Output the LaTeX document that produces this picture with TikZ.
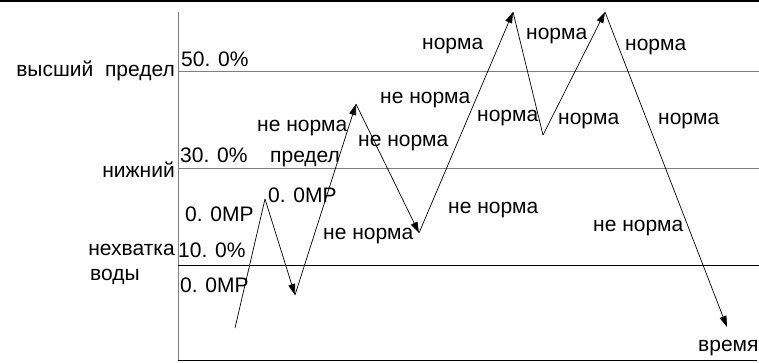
\documentclass[tikz,border=0pt]{standalone}
\usepackage{fontspec}
\setmainfont{Liberation Sans}
\usetikzlibrary{arrows.meta}
\definecolor{caxis}{HTML}{7f7f7f}
\definecolor{cink}{HTML}{000000}

\begin{document}
\begin{tikzpicture}[x=1pt, y=-1pt,
    every node/.style={font=\fontsize{21}{22}\selectfont, inner sep=0pt, anchor=west},
    trend/.style={cink, line width=.7pt, -{Triangle[length=11pt,width=7pt]}},
    level/.style={caxis, line width=1pt}]
  \useasboundingbox (0,0) rectangle (759,362);
  \draw[line width=1.5pt] (0,1) -- (759,1);
  % axes
  \coordinate (origin) at (178,360);
  \coordinate (ytop) at (178,12);
  \coordinate (xend) at (757,360);
  \draw[level] (ytop) -- (origin);
  \draw[line width=1pt] (origin) -- (xend);
  % levels
  \draw[level] (178,71) -- (759,71);
  \draw[level] (178,168) -- (759,168);
  \draw[line width=1pt] (178,265) -- (759,265);
  % the run of the value
  \coordinate (v0) at (235,328);
  \coordinate (v1) at (265,199);
  \coordinate (v2) at (295,295);
  \coordinate (v3) at (356,104);
  \coordinate (v4) at (419,233);
  \coordinate (v5) at (513,12);
  \coordinate (v6) at (543,135);
  \coordinate (v7) at (605,12);
  \coordinate (v8) at (727,327);
  \draw[cink, line width=.7pt] (v0) -- (v1);
  \draw[trend] (v1) -- (v2);
  \draw[trend] (v2) -- (v3);
  \draw[trend] (v3) -- (v4);
  \draw[trend] (v4) -- (v5);
  \draw[cink, line width=.7pt] (v5) -- (v6);
  \draw[trend] (v6) -- (v7);
  \draw[trend] (v7) -- (v8);
  % labels left of the axis
  \node[anchor=east] (hi) at (175,71) {высший\ \ предел};
  \node[anchor=east] (lo) at (175,170) {нижний};
  \node[anchor=east] (short) at (175,250) {нехватка};
  \node (water) at (90,277) {воды};
  \node (p50) at (181,59) {50. 0\%};
  \node (p30) at (180,155) {30. 0\%};
  \node (p10) at (178,250) {10. 0\%};
  \node (mpA) at (185,214) {0. 0MP};
  \node (mpB) at (180,285) {0. 0MP};
  \node (mpC) at (268,195) {0. 0MP};
  % labels along the run
  \node (ntA) at (257,128) {не норма};
  \node (limit) at (270,159) {предел};
  \node (ntB) at (358,143) {не норма};
  \node (ntC) at (323,236) {не норма};
  \node (ntD) at (380,100) {не норма};
  \node (ntE) at (448,210) {не норма};
  \node (ntF) at (593,228) {не норма};
  \node (nA) at (422,46) {норма};
  \node (nB) at (526,36) {норма};
  \node (nC) at (625,47) {норма};
  \node (nD) at (477,118) {норма};
  \node (nE) at (558,121) {норма};
  \node (nF) at (658,121) {норма};
  \node (time) at (698,348) {время};
\end{tikzpicture}
\end{document}
